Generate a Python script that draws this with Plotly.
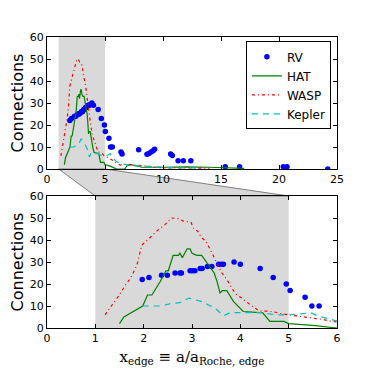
import plotly.graph_objects as go

# zoomed x-window shown in the lower panel
zoom_lo, zoom_hi = 1, 5
top_xmax, bot_xmax, y_max = 25, 6, 60

rv_x = [1.97, 2.11, 2.37, 2.49, 2.65, 2.75, 2.78, 2.96, 3.01, 3.06, 3.17, 3.21, 3.32, 3.41,
        3.55, 3.60, 3.65, 3.87, 4.00, 4.41, 4.68, 4.95, 5.03, 5.34, 5.48, 5.63, 6.38, 6.47,
        7.9, 8.62, 8.79, 8.97, 9.14, 9.28, 10.66, 10.8, 11.3, 11.75, 12.4, 15.37, 16.6,
        20.37, 20.69, 24.2]
rv_y = [22, 23, 24, 24, 25, 25, 25, 26, 26, 26, 27, 27, 28, 28,
        29, 29, 29, 30, 29, 27, 23, 20, 17, 14, 10, 10, 7.7, 6.8,
        8.8, 6.7, 7, 7.7, 8.3, 9, 6.8, 6.1, 3.8, 3.8, 3.8, 1, 1,
        1, 1, 0]

hat_x = [1.5, 1.59, 1.98, 2.08, 2.17, 2.34, 2.46, 2.51, 2.61, 2.72, 2.75, 2.8, 2.9, 2.96,
         3.0, 3.1, 3.2, 3.3, 3.4, 3.46, 3.52, 3.58, 3.63, 3.72, 3.86, 3.96, 4.06, 4.4, 4.46,
         4.61, 4.9, 5.0, 5.5, 6.0, 6.7, 6.9, 7.3, 7.6, 8.2, 10, 12, 14, 15.5, 17]
hat_y = [2, 5, 10, 15, 15, 21, 26, 26, 33, 33, 34, 32, 36, 36,
         34, 33, 33, 30, 27, 25, 21, 16, 17, 17, 12, 9.5, 7.5, 7, 7,
         3, 3, 2, 1.2, 0, 0, 1.5, 2, 1.5, 0.8, 0.8, 1, 0.8, 0.5, 0.3]

wasp_x = [1.2, 1.48, 1.63, 1.73, 1.86, 1.92, 1.96, 2.08, 2.16, 2.29, 2.44, 2.58, 2.72, 2.82,
          2.98, 3.04, 3.12, 3.2, 3.29, 3.36, 3.48, 3.62, 3.72, 3.79, 3.9, 4.04, 4.15, 4.27,
          4.4, 4.55, 4.7, 4.86, 5.0, 5.23, 5.4, 5.55, 5.72, 5.9, 6.3, 6.9, 7.5, 8.2, 8.8,
          10, 12, 14]
wasp_y = [6, 14.5, 19.7, 22.7, 28.5, 34.5, 37.6, 40, 41.7, 44.4, 47, 50, 49.7, 48.6,
          48, 45, 44, 41, 39.4, 36.4, 30.8, 25, 22, 19.4, 15.5, 13.4, 11.4, 9.5,
          7.7, 7.7, 7.3, 6.4, 6, 5.4, 4.7, 4.3, 3.8, 3, 1.8, 2.2, 2, 1.5, 1.2,
          0.5, 0.5, 0.3]

kep_x = [1.98, 2.34, 2.54, 2.75, 2.94, 3.2, 3.48, 3.65, 3.79, 4.0, 4.43, 4.72, 5.0, 5.3,
         5.45, 5.6, 5.75, 5.95, 6.3, 6.9, 7.5, 8.5, 9.5, 11, 13]
kep_y = [10, 10, 11, 11.5, 13.6, 12, 9, 5.5, 7, 7, 7, 6, 6, 6.5,
         7, 5.5, 4.5, 3.5, 2.5, 2, 1.5, 1.2, 1, 0.5, 0.5]

GRIS = "#d9d9d9"
top_dom = [0.5464, 1.0]
bot_dom = [0.0, 0.4536]

fig = go.Figure()
for xa, ya, show in [("x", "y", True), ("x2", "y2", False)]:
    fig.add_trace(go.Scatter(x=rv_x, y=rv_y, mode="markers", name="RV", xaxis=xa, yaxis=ya,
                             marker=dict(color="#0000ff", size=5.5), showlegend=show))
    fig.add_trace(go.Scatter(x=hat_x, y=hat_y, mode="lines", name="HAT", xaxis=xa, yaxis=ya,
                             line=dict(color="#008000", width=1.2), showlegend=show))
    fig.add_trace(go.Scatter(x=wasp_x, y=wasp_y, mode="lines", name="WASP", xaxis=xa, yaxis=ya,
                             line=dict(color="#ff0000", width=1.2, dash="3px,3px,1px,3px"),
                             showlegend=show))
    fig.add_trace(go.Scatter(x=kep_x, y=kep_y, mode="lines", name="Kepler", xaxis=xa, yaxis=ya,
                             line=dict(color="#00bfbf", width=1.2, dash="6px,5px"),
                             showlegend=show))

ax_common = dict(showline=True, linecolor="black", linewidth=1, mirror="ticks",
                 ticks="inside", ticklen=4, tickcolor="black", showgrid=False,
                 zeroline=False, automargin=False,
                 tickfont=dict(family="DejaVu Sans", size=11, color="black"))
ytitle = dict(text="Connections", font=dict(family="DejaVu Sans", size=16, color="black"),
              standoff=4)

# gris shading of the zoom window in both panels
shapes = [
    dict(type="rect", xref="x", yref="y domain", x0=zoom_lo, x1=zoom_hi, y0=0, y1=1,
         fillcolor=GRIS, line=dict(width=0), layer="below"),
    dict(type="rect", xref="x2", yref="y2 domain", x0=zoom_lo, x1=zoom_hi, y0=0, y1=1,
         fillcolor=GRIS, line=dict(width=0), layer="below"),
]
# connector between the two panels
t1, t2 = zoom_lo / top_xmax, zoom_hi / top_xmax
b1, b2 = zoom_lo / bot_xmax, zoom_hi / bot_xmax
yt, yb = top_dom[0], bot_dom[1]
shapes.append(dict(type="path", xref="paper", yref="paper",
                   path=f"M {t1},{yt} L {t2},{yt} L {b2},{yb} L {b1},{yb} Z",
                   fillcolor=GRIS, line=dict(color="#808080", width=1), layer="below"))

# the page body adds an 8px offset, so the figure is 367 wide/high
fig.update_layout(
    width=367, height=367,
    margin=dict(l=39, r=38, t=29, b=47),
    paper_bgcolor="white", plot_bgcolor="white",
    xaxis=dict(ax_common, domain=[0, 1], anchor="y", range=[0, top_xmax], dtick=5),
    yaxis=dict(ax_common, domain=top_dom, anchor="x", range=[0, y_max], dtick=10,
               title=ytitle),
    xaxis2=dict(ax_common, domain=[0, 1], anchor="y2", range=[0, bot_xmax], dtick=1,
                title=dict(text="x<sub>edge</sub> ≡ a/a<sub>Roche, edge</sub>",
                           font=dict(family="DejaVu Serif", size=15, color="black"),
                           standoff=7)),
    yaxis2=dict(ax_common, domain=bot_dom, anchor="x2", range=[0, y_max], dtick=10,
                title=ytitle),
    shapes=shapes,
    legend=dict(x=0.979, y=0.985, xanchor="right", yanchor="top",
                bgcolor="white", bordercolor="black", borderwidth=1,
                font=dict(family="DejaVu Sans", size=12, color="black"),
                tracegroupgap=0, itemwidth=30),
)

fig.write_html("out.html")
